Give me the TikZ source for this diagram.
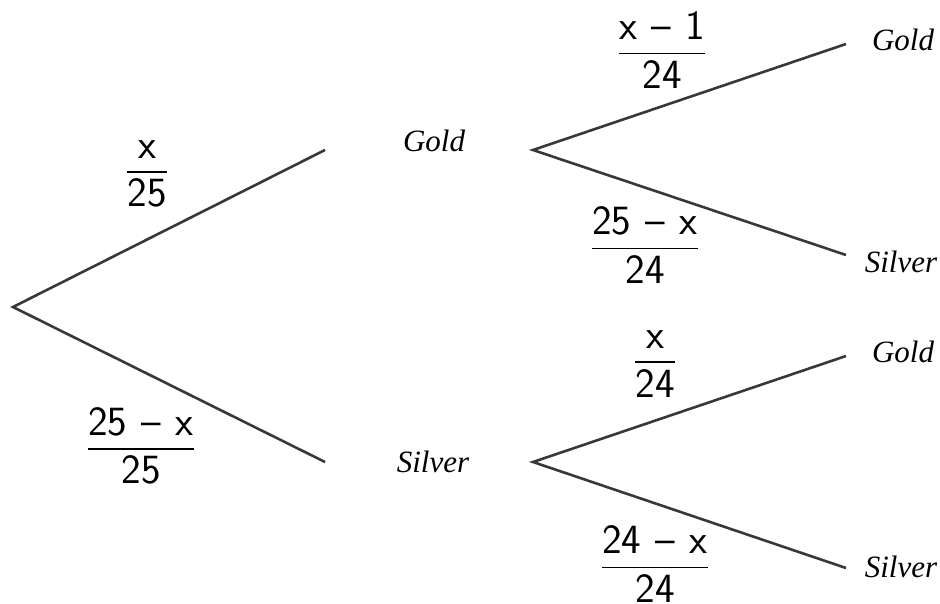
\documentclass[tikz,border=0pt]{standalone}
\usepackage{amsmath}
\usepackage{fontspec}
\setmainfont{Liberation Serif}
\newcommand{\tfr}[2]{\genfrac{}{}{1.5pt}{0}{#1}{#2}}
\newcommand{\mn}{\mathbin{\mkern4mu\text{\sffamily\upshape –}\mkern4mu}}
\tikzset{
  br/.style={line width=2.6pt, draw=black!78},
  lbl/.style={font=\fontsize{31}{36}\selectfont\itshape, inner sep=0pt},
  frac/.style={font=\fontsize{32}{38}\selectfont, inner sep=0pt, scale=1.3, transform shape}
}
\begin{document}
\begin{tikzpicture}[x=1pt,y=-1pt]
\useasboundingbox (0,0) rectangle (940,604);
\coordinate (r) at (13,307);
\coordinate (g1) at (325,150);
\coordinate (s1) at (325,462);
\coordinate (g2) at (533,150);
\coordinate (s2) at (533,462);
\coordinate (gg) at (846,44);
\coordinate (gs) at (846,255);
\coordinate (sg) at (846,356);
\coordinate (ss) at (846,568);
\node[lbl] (G1) at (434,141) {Gold};
\node[lbl] (S1) at (433,462) {Silver};
\node[lbl] (GG) at (903,40) {Gold};
\node[lbl] (GS) at (901,262) {Silver};
\node[lbl] (SG) at (903,352) {Gold};
\node[lbl] (SS) at (901,567) {Silver};
\draw[br] (g1) -- (r) -- (s1);
\draw[br] (gg) -- (g2) -- (gs);
\draw[br] (sg) -- (s2) -- (ss);
\node[frac] (f1) at (147,174) {$\tfr{\mathsf{x}}{\mathsf{25}}$};
\node[frac] (f2) at (141,446) {$\tfr{\mathsf{25}\mn\mathsf{x}}{\mathsf{25}}$};
\node[frac] (f3) at (662,50) {$\tfr{\mathsf{x}\mn\mathsf{1}}{\mathsf{24}}$};
\node[frac] (f4) at (645,245) {$\tfr{\mathsf{25}\mn\mathsf{x}}{\mathsf{24}}$};
\node[frac] (f5) at (655,364) {$\tfr{\mathsf{x}}{\mathsf{24}}$};
\node[frac] (f6) at (655,564) {$\tfr{\mathsf{24}\mn\mathsf{x}}{\mathsf{24}}$};
\end{tikzpicture}
\end{document}
